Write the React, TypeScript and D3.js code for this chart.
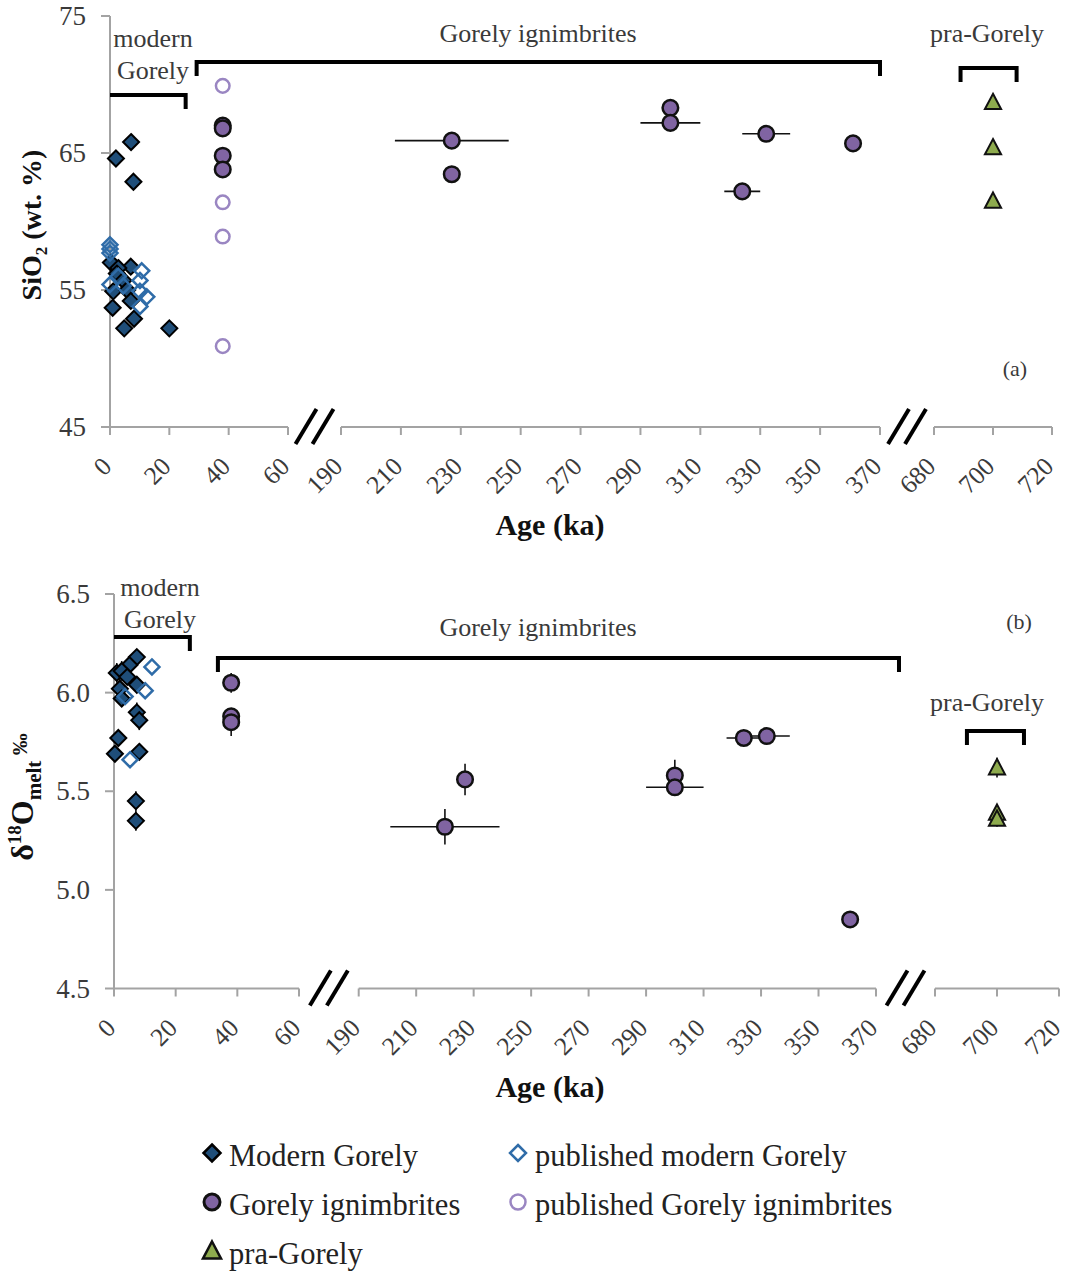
import * as d3 from "d3";

const FONT = "'Liberation Serif', 'Times New Roman', serif";
const AXIS_GREY = "#a3a3a3";
const TEXT_GREY = "#3a3a3a";

// broken x axis: three age windows (ka)
const segDomains: [number, number][] = [[0, 60], [190, 370], [680, 720]];
const segTicks: number[][] = [
  [0, 20, 40, 60],
  [190, 210, 230, 250, 270, 290, 310, 330, 350, 370],
  [680, 700, 720],
];

// (a) SiO2 wt.%
const siTicks = [45, 55, 65, 75];
// [age, SiO2]
const modernSi: [number, number][] = [
  [7.1, 65.8], [2.0, 64.6], [7.9, 62.9], [0.3, 57.0], [7.0, 56.7], [2.8, 56.6],
  [2.3, 56.2], [4.5, 55.7], [1.1, 54.9], [5.8, 55.0], [7.0, 54.2], [0.9, 53.7],
  [8.1, 52.9], [4.8, 52.2], [20.0, 52.2],
];
const pubModernSi: [number, number][] = [
  [0, 58.3], [0, 58.0], [0, 57.7], [10.7, 56.4], [10.1, 55.7], [0, 55.4],
  [4.5, 55.3], [2.8, 56.0], [12.4, 54.5], [10.1, 54.9], [10.1, 53.8],
];
// [age, SiO2, age error]
const ignSi: [number, number, number][] = [
  [38, 67.0, 0], [38, 66.8, 0], [38, 64.8, 0], [38, 63.8, 0],
  [227, 65.9, 19], [227, 63.45, 0], [300, 68.3, 0], [300, 67.2, 10],
  [332, 66.4, 8], [324, 62.2, 6], [361, 65.7, 0],
];
const pubIgnSi: [number, number][] = [[38, 69.9], [38, 61.4], [38, 58.9], [38, 50.9]];
const praSi: [number, number][] = [[700, 68.7], [700, 65.4], [700, 61.5]];

// (b) d18O melt permil
const oTicks = [4.5, 5.0, 5.5, 6.0, 6.5];
// [age, d18O, d18O error]
const modernO: [number, number, number][] = [
  [7.4, 6.18, 0.04], [5.0, 6.14, 0.04], [0.9, 6.1, 0.05], [2.5, 6.11, 0.05],
  [4.3, 6.08, 0.04], [7.4, 6.04, 0.04], [1.9, 6.02, 0.05], [2.5, 5.97, 0.04],
  [7.4, 5.9, 0.05], [8.2, 5.86, 0.05], [1.4, 5.77, 0.0], [0.3, 5.69, 0.0],
  [8.2, 5.7, 0.04], [7.1, 5.45, 0.05], [7.1, 5.35, 0.05],
];
const pubModernO: [number, number][] = [[12.3, 6.13], [10.1, 6.01], [3.6, 5.98], [5.2, 5.66]];
// [age, d18O, age error, d18O error]
const ignO: [number, number, number, number][] = [
  [38, 6.05, 0, 0.05], [38, 5.88, 0, 0.0], [38, 5.85, 0, 0.07],
  [227, 5.56, 0, 0.08], [220, 5.32, 19, 0.09], [300, 5.58, 0, 0.08],
  [300, 5.52, 10, 0], [324, 5.77, 6, 0], [332, 5.78, 8, 0], [361, 4.85, 0, 0],
];
const praO: [number, number, number][] = [[700, 5.62, 0.05], [700, 5.39, 0.04], [700, 5.36, 0.04]];

const C = {
  modern: "#1f4e79",
  pubModern: "#2f6ca8",
  ign: "#8064a2",
  pubIgn: "#9a86c2",
  pra: "#8eab4e",
};

const diamond = (r: number) => `M0,${-r}L${r},0L0,${r}L${-r},0Z`;
const triangle = (r: number) => `M0,${-r}L${r * 0.95},${r * 0.8}L${-r * 0.95},${r * 0.8}Z`;

type Layout = {
  axisX: number;
  top: number;
  bottom: number;
  ranges: [number, number][];
};

function makeX(ranges: [number, number][]) {
  const scales = segDomains.map((d, i) => d3.scaleLinear().domain(d).range(ranges[i]));
  const f = (v: number) => scales[v < 120 ? 0 : v < 500 ? 1 : 2](v);
  return { f, scales };
}

function BrokenXAxis({ lay }: { lay: Layout }) {
  const { scales } = makeX(lay.ranges);
  const y0 = lay.bottom;
  const gaps = [
    (lay.ranges[0][1] + lay.ranges[1][0]) / 2,
    (lay.ranges[1][1] + lay.ranges[2][0]) / 2,
  ];
  return (
    <g>
      {scales.map((s, i) => (
        <g key={i}>
          <line x1={s.range()[0]} x2={s.range()[1]} y1={y0} y2={y0} stroke={AXIS_GREY} strokeWidth={2} />
          {segTicks[i].map((t) => (
            <g key={t}>
              <line x1={s(t)} x2={s(t)} y1={y0} y2={y0 + 8} stroke={AXIS_GREY} strokeWidth={2} />
              <text
                transform={`translate(${s(t) - 3},${y0 + 35}) rotate(-45)`}
                textAnchor="end"
                dominantBaseline="central"
                fontSize={25.5}
                fill={TEXT_GREY}
              >
                {t}
              </text>
            </g>
          ))}
        </g>
      ))}
      {gaps.map((g, i) =>
        [-8.5, 8.5].map((o) => (
          <line
            key={`${i}${o}`}
            x1={g + o - 10.5}
            x2={g + o + 10.5}
            y1={y0 + 17}
            y2={y0 - 18}
            stroke="#000"
            strokeWidth={4}
          />
        ))
      )}
      <text x={550} y={y0 + 108} textAnchor="middle" fontSize={30} fontWeight="bold" fill="#111">
        Age (ka)
      </text>
    </g>
  );
}

function YAxis({ y, x, ticks, fmt }: { y: d3.ScaleLinear<number, number>; x: number; ticks: number[]; fmt: (v: number) => string }) {
  const [r0, r1] = y.range();
  return (
    <g>
      <line x1={x} x2={x} y1={r0} y2={r1} stroke={AXIS_GREY} strokeWidth={2} />
      {ticks.map((t) => (
        <g key={t}>
          <line x1={x - 9} x2={x} y1={y(t)} y2={y(t)} stroke={AXIS_GREY} strokeWidth={2} />
          <text x={x - 24} y={y(t)} textAnchor="end" dominantBaseline="central" fontSize={27} fill={TEXT_GREY}>
            {fmt(t)}
          </text>
        </g>
      ))}
    </g>
  );
}

function Bracket({ x1, x2, y, left = true, right = true }: { x1: number; x2: number; y: number; left?: boolean; right?: boolean }) {
  const p = d3.path();
  if (left) { p.moveTo(x1, y + 14); p.lineTo(x1, y); } else p.moveTo(x1, y);
  p.lineTo(x2, y);
  if (right) p.lineTo(x2, y + 14);
  return <path d={p.toString()} fill="none" stroke="#000" strokeWidth={4} />;
}

const ann = (x: number, y: number, s: string, size = 26) => (
  <text x={x} y={y} textAnchor="middle" fontSize={size} fill={TEXT_GREY}>
    {s}
  </text>
);

function PanelA() {
  const lay: Layout = { axisX: 110, top: 16, bottom: 427, ranges: [[110, 288], [341, 880], [934, 1052]] };
  const y = d3.scaleLinear().domain([45, 75]).range([lay.bottom, lay.top]);
  const x = makeX(lay.ranges).f;
  return (
    <g>
      <YAxis y={y} x={lay.axisX} ticks={siTicks} fmt={(v) => String(v)} />
      <BrokenXAxis lay={lay} />
      <text transform={`translate(41,225) rotate(-90)`} textAnchor="middle" fontSize={28} fontWeight="bold" fill="#111">
        SiO<tspan fontSize={17} dy={6}>2</tspan>
        <tspan dy={-6}> (wt. %)</tspan>
      </text>
      {/* brackets and group labels */}
      <Bracket x1={x(0)} x2={x(25.5)} y={95} left={false} />
      <Bracket x1={x(29.2)} x2={x(370)} y={62} />
      <Bracket x1={x(689)} x2={x(708)} y={68} />
      {ann(153, 47, "modern")}
      {ann(153, 79, "Gorely")}
      {ann(538, 42, "Gorely ignimbrites")}
      {ann(987, 42, "pra-Gorely")}
      {ann(1015, 376, "(a)", 22)}
      {/* error bars */}
      {ignSi.filter((d) => d[2] > 0).map((d, i) => (
        <line key={i} x1={x(d[0] - d[2])} x2={x(d[0] + d[2])} y1={y(d[1])} y2={y(d[1])} stroke="#111" strokeWidth={1.6} />
      ))}
      {modernSi.map((d, i) => (
        <path key={i} d={diamond(8)} transform={`translate(${x(d[0])},${y(d[1])})`} fill={C.modern} stroke="#000" strokeWidth={2} />
      ))}
      {pubModernSi.map((d, i) => (
        <path key={i} d={diamond(7.5)} transform={`translate(${x(d[0])},${y(d[1])})`} fill="none" stroke={C.pubModern} strokeWidth={2.5} />
      ))}
      {ignSi.map((d, i) => (
        <circle key={i} cx={x(d[0])} cy={y(d[1])} r={7.8} fill={C.ign} stroke="#111" strokeWidth={2.5} />
      ))}
      {pubIgnSi.map((d, i) => (
        <circle key={i} cx={x(d[0])} cy={y(d[1])} r={6.8} fill="none" stroke={C.pubIgn} strokeWidth={2.5} />
      ))}
      {praSi.map((d, i) => (
        <path key={i} d={triangle(8.5)} transform={`translate(${x(d[0])},${y(d[1])})`} fill={C.pra} stroke="#111" strokeWidth={2} />
      ))}
    </g>
  );
}

function PanelB() {
  const lay: Layout = { axisX: 114, top: 594, bottom: 988.5, ranges: [[114, 299], [358.7, 876], [935, 1059]] };
  const y = d3.scaleLinear().domain([4.5, 6.5]).range([lay.bottom, lay.top]);
  const x = makeX(lay.ranges).f;
  return (
    <g>
      <YAxis y={y} x={lay.axisX} ticks={oTicks} fmt={(v) => v.toFixed(1)} />
      <BrokenXAxis lay={lay} />
      <text transform={`translate(33,797) rotate(-90)`} textAnchor="middle" fontSize={32} fontWeight="bold" fill="#111">
        δ<tspan fontSize={19} dy={-12}>18</tspan>
        <tspan dy={12}>O</tspan>
        <tspan fontSize={21} dy={8}>melt</tspan>
        <tspan fontSize={22} dy={-14}> ‰</tspan>
      </text>
      <Bracket x1={x(0)} x2={x(24.6)} y={637} left={false} />
      <Bracket x1={x(33.7)} x2={x(378)} y={658} />
      <Bracket x1={x(690.3)} x2={x(708.7)} y={731} />
      {ann(160, 596, "modern")}
      {ann(160, 628, "Gorely")}
      {ann(538, 636, "Gorely ignimbrites")}
      {ann(987, 711, "pra-Gorely")}
      {ann(1019, 629, "(b)", 22)}
      {/* error bars */}
      {modernO.filter((d) => d[2] > 0).map((d, i) => (
        <line key={i} x1={x(d[0])} x2={x(d[0])} y1={y(d[1] - d[2])} y2={y(d[1] + d[2])} stroke="#111" strokeWidth={1.6} />
      ))}
      {ignO.map((d, i) => (
        <g key={i}>
          {d[2] > 0 && <line x1={x(d[0] - d[2])} x2={x(d[0] + d[2])} y1={y(d[1])} y2={y(d[1])} stroke="#111" strokeWidth={1.6} />}
          {d[3] > 0 && <line x1={x(d[0])} x2={x(d[0])} y1={y(d[1] - d[3])} y2={y(d[1] + d[3])} stroke="#111" strokeWidth={1.6} />}
        </g>
      ))}
      {praO.map((d, i) => (
        <line key={i} x1={x(d[0])} x2={x(d[0])} y1={y(d[1] - d[2])} y2={y(d[1] + d[2])} stroke="#111" strokeWidth={1.6} />
      ))}
      {modernO.map((d, i) => (
        <path key={i} d={diamond(8)} transform={`translate(${x(d[0])},${y(d[1])})`} fill={C.modern} stroke="#000" strokeWidth={2} />
      ))}
      {pubModernO.map((d, i) => (
        <path key={i} d={diamond(7.5)} transform={`translate(${x(d[0])},${y(d[1])})`} fill="none" stroke={C.pubModern} strokeWidth={2.5} />
      ))}
      {ignO.map((d, i) => (
        <circle key={i} cx={x(d[0])} cy={y(d[1])} r={7.8} fill={C.ign} stroke="#111" strokeWidth={2.5} />
      ))}
      {praO.map((d, i) => (
        <path key={i} d={triangle(8.5)} transform={`translate(${x(d[0])},${y(d[1])})`} fill={C.pra} stroke="#111" strokeWidth={2} />
      ))}
    </g>
  );
}

const legendItems = [
  { label: "Modern Gorely", kind: "modern", col: 0, row: 0 },
  { label: "published modern Gorely", kind: "pubModern", col: 1, row: 0 },
  { label: "Gorely ignimbrites", kind: "ign", col: 0, row: 1 },
  { label: "published Gorely ignimbrites", kind: "pubIgn", col: 1, row: 1 },
  { label: "pra-Gorely", kind: "pra", col: 0, row: 2 },
];

function Legend() {
  const colX = [212, 518];
  const rowY = [1166, 1215, 1264];
  return (
    <g>
      {legendItems.map((it) => {
        const mx = colX[it.col];
        const my = rowY[it.row] - 13;
        let mark;
        if (it.kind === "modern") mark = <path d={diamond(8.5)} transform={`translate(${mx},${my})`} fill={C.modern} stroke="#000" strokeWidth={2.5} />;
        else if (it.kind === "pubModern") mark = <path d={diamond(8)} transform={`translate(${mx},${my})`} fill="#fff" stroke={C.pubModern} strokeWidth={2.5} />;
        else if (it.kind === "ign") mark = <circle cx={mx} cy={my} r={8} fill={C.ign} stroke="#111" strokeWidth={3} />;
        else if (it.kind === "pubIgn") mark = <circle cx={mx} cy={my} r={7.5} fill="#fff" stroke={C.pubIgn} strokeWidth={2.5} />;
        else mark = <path d={triangle(9.5)} transform={`translate(${mx},${my})`} fill={C.pra} stroke="#111" strokeWidth={2.5} />;
        return (
          <g key={it.label}>
            {mark}
            <text x={mx + 17} y={rowY[it.row]} fontSize={30.5} fill="#222">
              {it.label}
            </text>
          </g>
        );
      })}
    </g>
  );
}

export default function App() {
  return (
    <svg
      width={1066}
      height={1271}
      style={{ position: "absolute", left: 0, top: 0, background: "#fff", fontFamily: FONT }}
    >
      <PanelA />
      <PanelB />
      <Legend />
    </svg>
  );
}
